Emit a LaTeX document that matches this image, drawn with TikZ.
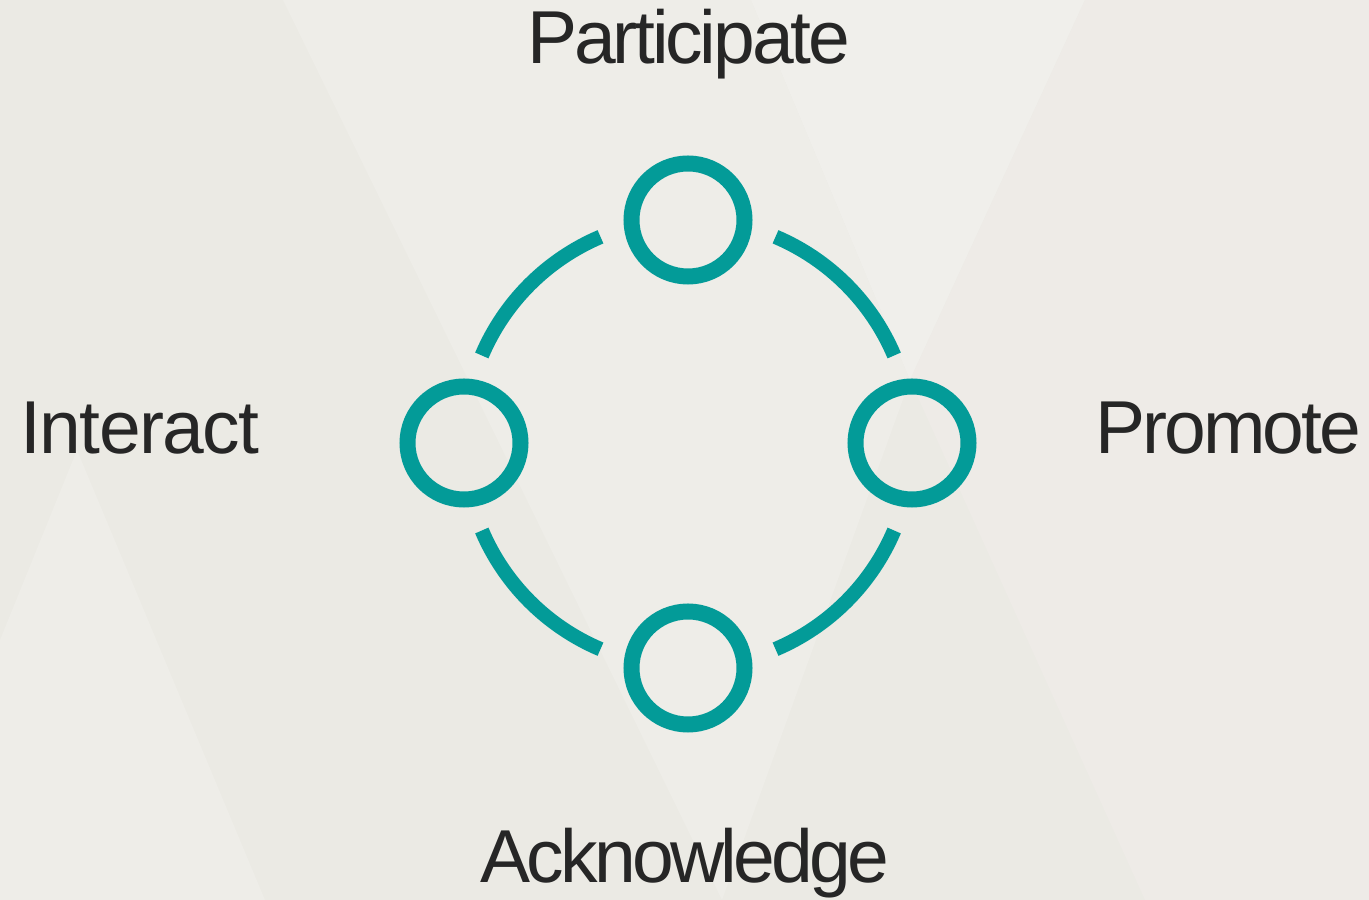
\documentclass[tikz,border=0pt]{standalone}
\usepackage{fontspec}
\setmainfont{Liberation Sans}
\newfontfamily\fPart{Liberation Sans}[LetterSpace=-4.2]
\newfontfamily\fInt{Liberation Sans}[LetterSpace=-2]
\newfontfamily\fProm{Liberation Sans}[LetterSpace=-4]
\newfontfamily\fAck{Liberation Sans}[LetterSpace=-5]
\definecolor{teal}{HTML}{039B98}
\definecolor{bgA}{HTML}{EBEAE4}
\definecolor{bgB}{HTML}{EEEDE8}
\definecolor{bgC}{HTML}{F0EFEB}
\definecolor{bgD}{HTML}{EEEBE7}
\definecolor{txt}{HTML}{262626}
\begin{document}
\begin{tikzpicture}[x=1pt,y=1pt,
  ring/.style={circle,draw=teal,line width=16pt,minimum size=113pt,inner sep=0pt},
  link/.style={draw=teal,line width=14.5pt},
  lbl/.style={text=txt,inner sep=0pt}]
\useasboundingbox (0,0) rectangle (1369,900);
\fill[bgA] (0,0) rectangle (1369,900);
\fill[bgB] (283,900) -- (751,900) -- (910,520) -- (722,0) -- cycle;
\fill[bgC] (751,900) -- (1085,900) -- (910,520) -- cycle;
\fill[bgD] (1085,900) -- (1369,900) -- (1369,0) -- (1145,0) -- (910,520) -- cycle;
\fill[bgB] (0,260) -- (77,450) -- (265,0) -- (0,0) -- cycle;
\coordinate (C) at (688,457);
\node[ring] (top) at (688,680) {};
\node[ring] (left) at (464,457) {};
\node[ring] (right) at (912,457) {};
\node[ring] (bot) at (688,232) {};
\draw[link] ([shift={(113:224)}]C) arc[start angle=113,end angle=157,radius=224];
\draw[link] ([shift={(23:224)}]C) arc[start angle=23,end angle=67,radius=224];
\draw[link] ([shift={(-67:224)}]C) arc[start angle=-67,end angle=-23,radius=224];
\draw[link] ([shift={(203:224)}]C) arc[start angle=203,end angle=247,radius=224];
\node[lbl,anchor=base,font=\fPart\fontsize{75}{90}\selectfont] (tp) at (688.5,836) {Participate};
\node[lbl,anchor=base west,font=\fInt\fontsize{75}{90}\selectfont] (lf) at (20,446) {Interact};
\node[lbl,anchor=base east,font=\fProm\fontsize{75}{90}\selectfont] (rt) at (1361,446) {Promote};
\node[lbl,anchor=base,font=\fAck\fontsize{75}{90}\selectfont] (bt) at (685,17) {Acknowledge};
\end{tikzpicture}
\end{document}
